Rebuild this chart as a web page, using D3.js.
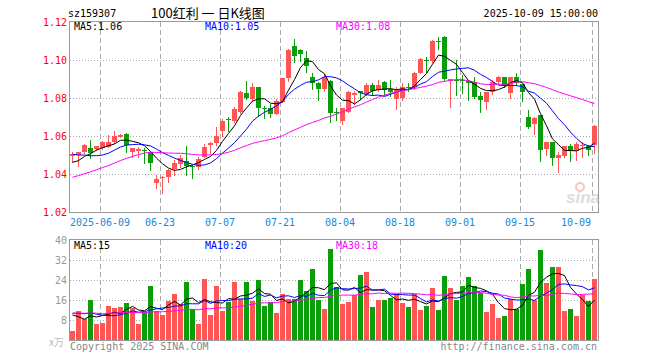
<!DOCTYPE html>
<html><head><meta charset="utf-8">
<script src="https://cdn.jsdelivr.net/npm/d3@7"></script>
<style>body{margin:0;background:#fff}svg{display:block}</style>
</head><body>
<svg id="c" width="660" height="360"></svg>
<script>
const dates = ["05-30","06-03","06-04","06-05","06-06","06-09","06-10","06-11","06-12","06-13","06-16","06-17","06-18","06-19","06-20","06-23","06-24","06-25","06-26","06-27","06-30","07-01","07-02","07-03","07-04","07-07","07-08","07-09","07-10","07-11","07-14","07-15","07-16","07-17","07-18","07-21","07-22","07-23","07-24","07-25","07-28","07-29","07-30","07-31","08-01","08-04","08-05","08-06","08-07","08-08","08-11","08-12","08-13","08-14","08-15","08-18","08-19","08-20","08-21","08-22","08-25","08-26","08-27","08-28","08-29","09-01","09-02","09-03","09-04","09-05","09-08","09-09","09-10","09-11","09-12","09-15","09-16","09-17","09-18","09-19","09-22","09-23","09-24","09-25","09-26","09-29","09-30","10-09"];
const opens = [1.0497,1.0498,1.0516,1.0537,1.0533,1.0537,1.0544,1.0568,1.0596,1.0609,1.0514,1.0520,1.0527,1.0516,1.0351,1.0377,1.0386,1.0425,1.0453,1.0470,1.0443,1.0437,1.0490,1.0555,1.0563,1.0625,1.0688,1.0677,1.0725,1.0828,1.0795,1.0856,1.0748,1.0745,1.0718,1.0781,1.0904,1.1073,1.1052,1.1008,1.0909,1.0877,1.0846,1.0891,1.0728,1.0681,1.0728,1.0814,1.0835,1.0821,1.0868,1.0840,1.0882,1.0845,1.0793,1.0798,1.0856,1.0856,1.0933,1.1002,1.0993,1.1098,1.1123,1.0889,1.0897,1.0893,1.0891,1.0886,1.0810,1.0780,1.0833,1.0884,1.0911,1.0825,1.0910,1.0874,1.0702,1.0662,1.0710,1.0530,1.0567,1.0484,1.0497,1.0545,1.0520,1.0545,1.0549,1.0554];
const highs = [1.0518,1.0518,1.0560,1.0579,1.0550,1.0572,1.0605,1.0626,1.0612,1.0614,1.0535,1.0540,1.0535,1.0520,1.0395,1.0390,1.0428,1.0474,1.0500,1.0546,1.0446,1.0488,1.0558,1.0570,1.0646,1.0690,1.0700,1.0751,1.0838,1.0888,1.0877,1.0858,1.0760,1.0770,1.0795,1.0905,1.1058,1.1108,1.1056,1.1046,1.0933,1.0886,1.0925,1.0893,1.0745,1.0748,1.0835,1.0837,1.0838,1.0881,1.0877,1.0895,1.0891,1.0893,1.0860,1.0880,1.0877,1.0938,1.1009,1.1018,1.1106,1.1123,1.1126,1.0900,1.1000,1.0919,1.0895,1.0912,1.0830,1.0833,1.0895,1.0918,1.0913,1.0913,1.0930,1.0876,1.0737,1.0698,1.0712,1.0568,1.0568,1.0514,1.0547,1.0558,1.0567,1.0567,1.0555,1.0656];
const lows = [1.0465,1.0442,1.0510,1.0483,1.0528,1.0530,1.0540,1.0565,1.0594,1.0517,1.0491,1.0490,1.0456,1.0421,1.0325,1.0300,1.0360,1.0397,1.0435,1.0397,1.0380,1.0425,1.0488,1.0513,1.0555,1.0602,1.0628,1.0675,1.0720,1.0795,1.0790,1.0707,1.0695,1.0702,1.0715,1.0778,1.0890,1.0990,1.0995,1.0936,1.0846,1.0789,1.0835,1.0673,1.0685,1.0663,1.0725,1.0768,1.0795,1.0815,1.0816,1.0835,1.0814,1.0810,1.0740,1.0790,1.0835,1.0850,1.0930,1.0938,1.0990,1.1056,1.0895,1.0754,1.0816,1.0826,1.0789,1.0800,1.0725,1.0742,1.0820,1.0880,1.0858,1.0798,1.0870,1.0786,1.0640,1.0612,1.0470,1.0500,1.0447,1.0410,1.0490,1.0470,1.0473,1.0490,1.0502,1.0510];
const closes = [1.0507,1.0514,1.0553,1.0509,1.0546,1.0568,1.0568,1.0600,1.0605,1.0551,1.0535,1.0532,1.0520,1.0456,1.0374,1.0386,1.0421,1.0456,1.0484,1.0442,1.0437,1.0480,1.0540,1.0563,1.0600,1.0677,1.0685,1.0744,1.0833,1.0800,1.0856,1.0746,1.0744,1.0718,1.0786,1.0904,1.1055,1.1021,1.1034,1.0967,1.0881,1.0846,1.0910,1.0719,1.0722,1.0746,1.0833,1.0825,1.0825,1.0868,1.0837,1.0868,1.0840,1.0832,1.0843,1.0856,1.0852,1.0933,1.1004,1.0998,1.1102,1.1094,1.0898,1.0898,1.0893,1.0889,1.0880,1.0803,1.0790,1.0833,1.0886,1.0910,1.0867,1.0911,1.0881,1.0833,1.0649,1.0697,1.0525,1.0567,1.0484,1.0502,1.0545,1.0520,1.0556,1.0555,1.0526,1.0655];
const volumes = [3.6,11.6,8.4,16,6.4,6.8,13.6,12.8,13.2,14.8,12.8,6.4,11.2,21.6,11.6,10,15.6,18.4,14.4,23.2,12.4,6.4,24.4,10,21.6,11.6,15.2,23.2,16.4,23.2,15.6,24,13.6,15.2,10.8,18.4,16.4,16.4,24,19.7,28.4,16,12.4,36.4,21.2,14.4,15.2,18,26,27.2,13.2,16,16,16.8,18.4,14.8,13.2,18.4,12,13.6,20.8,12,25.6,20.8,16,21.6,25.2,21.6,18.8,11.2,14.4,8.8,9.6,16.4,12.4,22.4,28.4,16,36,22.8,29.2,29.2,11.6,12.4,9.6,18,15.6,24.4];
// estimated sessions before the visible window (needed for the moving averages)
const prevCloses = [1.026,1.025,1.022,1.021,1.023,1.024,1.022,1.020,1.021,1.023,1.024,1.026,1.035,1.040,1.044,1.046,1.048,1.050,1.052,1.053,1.056,1.055,1.055,1.054,1.0535,1.047,1.044,1.044,1.045];
const prevVolumes = [9,12,10,11,13,8,10,12,11,9,10,14,11,10,9,12,11,10,12,10,12,10,13,11,11,15.1,13.4,9,8.9];
const priceTicks = [1.02,1.04,1.06,1.08,1.10,1.12];
const volTicks = [8,16,24,32,40];
const tickDates = ["06-09","06-23","07-07","07-21","08-04","08-18","09-01","09-15","10-09"];
const tickLabels = ["2025-06-09","06-23","07-07","07-21","08-04","08-18","09-01","09-15","10-09"];
const volLegend = ["MA5:15","MA10:20","MA30:18"];

const RED = "#ff5555", GREEN = "#0a9e0a", GRID = "#aaa", FRAME = "#999";
const MONO = "'DejaVu Sans Mono', monospace";
const svg = d3.select("#c");

const x = d3.scaleBand().domain(dates).range([70, 597]).paddingInner(1/6).paddingOuter(0);
const y = d3.scaleLinear().domain([1.02, 1.12]).range([212, 22]);
const yv = d3.scaleLinear().domain([0, 40]).range([340, 240]);
const cx = d => x(d) + 2.5;

function movingAvg(all, prevLen, n) {
  return dates.map((d, i) => d3.mean(all.slice(prevLen + i - n + 1, prevLen + i + 1)));
}
const allC = prevCloses.concat(closes);
const allV = prevVolumes.concat(volumes);
const pMA = [5, 10, 30].map(n => movingAvg(allC, prevCloses.length, n));
const vMA = [5, 10, 30].map(n => movingAvg(allV, prevVolumes.length, n));
const maColors = ["#000", "#0000ff", "#ff00ff"];

// header texts
svg.append("text").attr("x", 68).attr("y", 17).attr("font-family", MONO).attr("font-size", 10).text("sz159307");
svg.append("text").attr("x", 151).attr("y", 18).attr("font-family", "'Noto Sans CJK SC', sans-serif").attr("font-size", 13)
  .attr("xml:space", "preserve").style("white-space", "pre").text("100红利 一 日K线图");
svg.append("text").attr("x", 598).attr("y", 17).attr("text-anchor", "end").attr("font-family", MONO).attr("font-size", 10).text("2025-10-09 15:00:00");

// grids
const gGrid = svg.append("g");
gGrid.selectAll(".hm").data(priceTicks.slice(1, -1)).join("line")
  .attr("x1", 70).attr("x2", 598).attr("y1", d => Math.round(y(d)) + 0.5).attr("y2", d => Math.round(y(d)) + 0.5)
  .attr("stroke", GRID).attr("stroke-dasharray", "1,2");
gGrid.selectAll(".hv").data(volTicks.slice(0, -1)).join("line")
  .attr("x1", 70).attr("x2", 598).attr("y1", d => Math.round(yv(d)) + 0.5).attr("y2", d => Math.round(yv(d)) + 0.5)
  .attr("stroke", GRID).attr("stroke-dasharray", "1,2");
tickDates.forEach(d => {
  [[22, 212], [240, 340]].forEach(([a, b]) => {
    gGrid.append("line").attr("x1", x(d) + 0.5).attr("x2", x(d) + 0.5).attr("y1", a).attr("y2", b)
      .attr("stroke", GRID).attr("stroke-dasharray", "5,3");
  });
});

// watermark
const wm = svg.append("g");
wm.append("text").attr("x", 566).attr("y", 203).attr("font-family", "Arial, 'Liberation Sans', sans-serif")
  .attr("font-style", "italic").attr("font-weight", "bold").attr("font-size", 17).attr("fill", "#dcdcdc").text("sina");
wm.append("circle").attr("cx", 580).attr("cy", 187).attr("r", 4).attr("fill", "none").attr("stroke", "#f2c4c4").attr("stroke-width", 2);

// frames
svg.append("rect").attr("x", 69.5).attr("y", 21.5).attr("width", 529).attr("height", 191).attr("fill", "none").attr("stroke", FRAME);
svg.append("rect").attr("x", 69.5).attr("y", 239.5).attr("width", 529).attr("height", 101).attr("fill", "none").attr("stroke", FRAME);

// axes labels
const ya = svg.append("g").attr("transform", "translate(67,0)")
  .call(d3.axisLeft(y).tickValues(priceTicks).tickFormat(d3.format(".2f")).tickSize(0).tickPadding(0));
ya.select(".domain").remove();
ya.selectAll("text").attr("fill", "#f00").attr("font-family", MONO).attr("font-size", 10);
const va = svg.append("g").attr("transform", "translate(67,0)")
  .call(d3.axisLeft(yv).tickValues(volTicks).tickSize(0).tickPadding(0));
va.select(".domain").remove();
va.selectAll("text").attr("fill", "#999").attr("font-family", MONO).attr("font-size", 10);
svg.append("text").attr("x", 64).attr("y", 346).attr("text-anchor", "end").attr("fill", "#bbb")
  .attr("font-family", "'Noto Sans CJK SC', sans-serif").attr("font-size", 10).text("x万");

tickDates.forEach((d, k) => {
  const lastTick = k === tickDates.length - 1;
  svg.append("text").attr("x", lastTick ? 591 : x(d)).attr("y", 226)
    .attr("text-anchor", lastTick ? "end" : "middle").attr("fill", "#1a86d6")
    .attr("font-family", MONO).attr("font-size", 10).text(tickLabels[k]);
});

// candles
const up = i => closes[i] >= opens[i];
const gC = svg.append("g");
dates.forEach((d, i) => {
  const col = up(i) ? RED : GREEN;
  gC.append("line").attr("x1", cx(d)).attr("x2", cx(d))
    .attr("y1", Math.round(y(highs[i]))).attr("y2", Math.round(y(lows[i])) + 1).attr("stroke", col);
  const t = Math.round(y(Math.max(opens[i], closes[i])));
  const b = Math.round(y(Math.min(opens[i], closes[i])));
  gC.append("rect").attr("x", x(d)).attr("y", t).attr("width", x.bandwidth()).attr("height", Math.max(1, b - t)).attr("fill", col);
});

// volume bars
svg.append("g").selectAll("rect").data(dates).join("rect")
  .attr("x", d => x(d)).attr("width", x.bandwidth())
  .attr("y", (d, i) => Math.round(yv(volumes[i]))).attr("height", (d, i) => 340 - Math.round(yv(volumes[i])))
  .attr("fill", (d, i) => up(i) ? RED : GREEN);

// MA lines
pMA.forEach((arr, k) => {
  svg.append("path").datum(arr).attr("fill", "none").attr("stroke", maColors[k]).attr("stroke-width", 1)
    .attr("d", d3.line().x((v, i) => cx(dates[i])).y(v => y(v)));
});
vMA.forEach((arr, k) => {
  svg.append("path").datum(arr).attr("fill", "none").attr("stroke", maColors[k]).attr("stroke-width", 1)
    .attr("d", d3.line().x((v, i) => cx(dates[i])).y(v => yv(v)));
});

// legends
const last = dates.length - 1;
const legX = [74, 205, 336];
["MA5:", "MA10:", "MA30:"].forEach((p, k) => {
  svg.append("text").attr("x", legX[k]).attr("y", 30).attr("fill", maColors[k])
    .attr("font-family", MONO).attr("font-size", 10).text(p + pMA[k][last].toFixed(2));
  svg.append("text").attr("x", legX[k]).attr("y", 249).attr("fill", maColors[k])
    .attr("font-family", MONO).attr("font-size", 10).text(volLegend[k]);
});

// footer
svg.append("text").attr("x", 70).attr("y", 350).attr("fill", "#888").attr("font-family", MONO).attr("font-size", 10).text("Copyright 2025 SINA.COM");
svg.append("text").attr("x", 597).attr("y", 350).attr("text-anchor", "end").attr("fill", "#888").attr("font-family", MONO).attr("font-size", 10).text("http://finance.sina.com.cn");
</script>
</body></html>
